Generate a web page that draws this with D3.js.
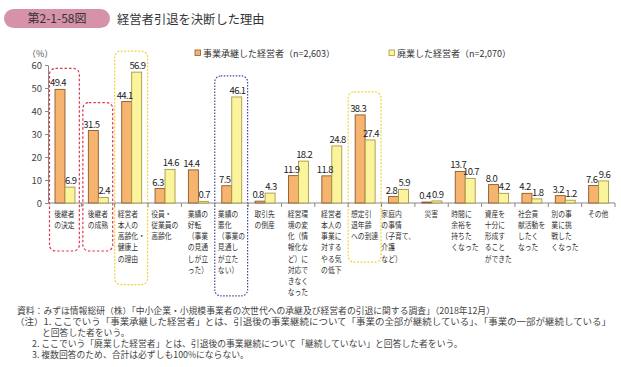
<!DOCTYPE html>
<html>
<head>
<meta charset="utf-8">
<script src="https://cdn.jsdelivr.net/npm/d3@7"></script>
<style>
  body { margin: 0; background: #fff; }
  svg { display: block; font-family: "Noto Sans CJK JP", "Noto Sans", sans-serif; }
</style>
</head>
<body>
<div id="chart"></div>
<script>
// category labels, one entry per line as printed under the axis
var categoryLines = [
  ["後継者", "の決定"],
  ["後継者", "の成熟"],
  ["経営者", "本人の", "高齢化・", "健康上", "の理由"],
  ["役員・", "従業員の", "高齢化"],
  ["業績の", "好転", "（事業", "の見通", "しが立", "った）"],
  ["業績の", "悪化", "（事業の", "見通し", "が立た", "ない）"],
  ["取引先", "の倒産"],
  ["経営環", "境の変", "化（情", "報化な", "ど）に", "対応で", "きなく", "なった"],
  ["経営者", "本人の", "事業に", "対する", "やる気", "の低下"],
  ["想定引", "退年齢", "への到達"],
  ["家庭内", "の事情", "（子育て、", "介護", "など）"],
  ["災害"],
  ["時間に", "余裕を", "持ちた", "くなった"],
  ["資産を", "十分に", "形成す", "ること", "ができた"],
  ["社会貢", "献活動を", "したく", "なった"],
  ["別の事", "業に挑", "戦した", "くなった"],
  ["その他"]
];
var categories = categoryLines.map(function(l) { return l.join(""); });

var seriesNames = ["事業承継した経営者（n=2,603）", "廃業した経営者（n=2,070）"];
var succeeded = [49.4, 31.5, 44.1, 6.3, 14.4, 7.5, 0.8, 11.9, 11.8, 38.3, 2.8, 0.4, 13.7, 8.0, 4.2, 3.2, 7.6];
var closedDown = [6.9, 2.4, 56.9, 14.6, 0.7, 46.1, 4.3, 18.2, 24.8, 27.4, 5.9, 0.9, 10.7, 4.2, 1.8, 1.2, 9.6];
var yTicks = [0, 10, 20, 30, 40, 50, 60];

// dashed highlight boxes: which category, which colour
var highlights = [
  { cat: 0, color: "#e0344e", dash: "2.5,2", pad: 21 },
  { cat: 1, color: "#e0344e", dash: "2.5,2", pad: 28 },
  { cat: 2, color: "#f3d33c", dash: "2,1.5", pad: 21 },
  { cat: 5, color: "#45439c", dash: "1.5,1.5", pad: 21 },
  { cat: 9, color: "#f3d33c", dash: "2,1.5", pad: 23 }
];

var footnotes = [
  "資料：みずほ情報総研（株）「中小企業・小規模事業者の次世代への承継及び経営者の引退に関する調査」（2018年12月）",
  "（注）1. ここでいう「事業承継した経営者」とは、引退後の事業継続について「事業の全部が継続している」、「事業の一部が継続している」",
  "と回答した者をいう。",
  "2. ここでいう「廃業した経営者」とは、引退後の事業継続について「継続していない」と回答した者をいう。",
  "3. 複数回答のため、合計は必ずしも100%にならない。"
];

var W = 621, H = 367;
var colors = { fill: ["#f6b46f", "#fbf49c"], stroke: ["#8a5a2c", "#a69a45"] };

var svg = d3.select("#chart").append("svg")
  .attr("width", W).attr("height", H);

// title
svg.append("rect")
  .attr("x", 4).attr("y", 9).attr("width", 106).attr("height", 19)
  .attr("rx", 9.5).attr("fill", "#d692a9");
svg.append("text")
  .attr("x", 57).attr("y", 23).attr("text-anchor", "middle")
  .attr("font-size", 12).attr("fill", "#333")
  .text("第2-1-58図");
svg.append("text")
  .attr("x", 117).attr("y", 23.5)
  .attr("font-size", 12.3).attr("fill", "#333")
  .text("経営者引退を決断した理由");

// scales
var x = d3.scaleBand().domain(categories).range([48, 615]).padding(0);
var xs = d3.scaleBand().domain([0, 1]).range([7, x.bandwidth() - 6.4]).padding(0);
var y = d3.scaleLinear().domain([0, 60]).range([203, 65]);

// highlight boxes (drawn first so bars sit on top)
var firstLine = 216.8, lineH = 11.2;
highlights.forEach(function(h) {
  var c = categories[h.cat];
  var top = y(Math.max(succeeded[h.cat], closedDown[h.cat])) - h.pad;
  var n = categoryLines[h.cat].length;
  var bottom = Math.max(242, firstLine + (n - 1) * lineH + 23);
  var inset = h.color === "#e0344e" ? 1.5 : 0;
  svg.append("rect")
    .attr("x", x(c) + inset).attr("y", top)
    .attr("width", x.bandwidth() - inset * 2 - 0.5).attr("height", bottom - top)
    .attr("rx", 6)
    .attr("fill", "none").attr("stroke", h.color)
    .attr("stroke-width", 1.2).attr("stroke-dasharray", h.dash);
});

// y axis
var yAxis = svg.append("g")
  .attr("transform", "translate(48,0)")
  .call(d3.axisLeft(y).tickValues(yTicks).tickSize(3).tickSizeOuter(0).tickPadding(3));
yAxis.select(".domain").attr("stroke", "#888");
yAxis.selectAll(".tick line").attr("stroke", "#888");
yAxis.selectAll(".tick text")
  .attr("font-size", 9.5).attr("fill", "#444")
  .attr("font-family", "'Noto Sans CJK JP', sans-serif");

svg.append("text")
  .attr("x", 27).attr("y", 56.5)
  .attr("font-size", 9).attr("fill", "#555")
  .text("（%）");

// x baseline and category separators
svg.append("line")
  .attr("x1", 48).attr("x2", 615).attr("y1", y(0)).attr("y2", y(0))
  .attr("stroke", "#888");
svg.append("g").selectAll("line")
  .data(categories.map(function(c) { return x(c) + x.bandwidth(); }))
  .enter().append("line")
  .attr("x1", function(d) { return d; }).attr("x2", function(d) { return d; })
  .attr("y1", y(0)).attr("y2", y(0) + 4)
  .attr("stroke", "#888");

// bars
var series = [succeeded, closedDown];
var groups = svg.append("g").selectAll("g")
  .data(categories)
  .enter().append("g")
  .attr("transform", function(c) { return "translate(" + x(c) + ",0)"; });

groups.selectAll("rect")
  .data(function(c, i) { return series.map(function(s, k) { return { k: k, v: s[i] }; }); })
  .enter().append("rect")
  .attr("x", function(d) { return xs(d.k); })
  .attr("y", function(d) { return y(d.v); })
  .attr("width", xs.bandwidth())
  .attr("height", function(d) { return y(0) - y(d.v); })
  .attr("fill", function(d) { return colors.fill[d.k]; })
  .attr("stroke", function(d) { return colors.stroke[d.k]; })
  .attr("stroke-width", 0.9);

groups.selectAll("text.val")
  .data(function(c, i) { return series.map(function(s, k) { return { k: k, v: s[i] }; }); })
  .enter().append("text")
  .attr("class", "val")
  .attr("x", function(d) { return xs(d.k) + xs.bandwidth() / 2 + (d.k === 0 ? -2 : 0.8); })
  .attr("y", function(d) { return y(d.v) - 3; })
  .attr("text-anchor", "middle")
  .attr("font-size", 9.5).attr("letter-spacing", "-0.6px").attr("fill", "#222")
  .text(function(d) { return d3.format(".1f")(d.v); });

// category labels, narrow multi-line blocks centred in each band
var squeeze = 0.8;
categoryLines.forEach(function(lines, i) {
  var g = svg.append("g");
  var t = g.append("text").attr("font-size", 8.5).attr("fill", "#333");
  lines.forEach(function(l, j) {
    t.append("tspan").attr("x", 0).attr("y", j * lineH).text(l);
  });
  var w = t.node().getBBox().width * squeeze;
  var cx = x(categories[i]) + x.bandwidth() / 2;
  g.attr("transform", "translate(" + (cx - w / 2) + "," + firstLine + ") scale(" + squeeze + ",1)");
});

// legend
var legendX = [195, 389];
seriesNames.forEach(function(name, k) {
  svg.append("rect")
    .attr("x", legendX[k]).attr("y", 50).attr("width", 5.5).attr("height", 5.5)
    .attr("fill", colors.fill[k]).attr("stroke", colors.stroke[k]).attr("stroke-width", 0.8);
  svg.append("text")
    .attr("x", legendX[k] + 8).attr("y", 56.5)
    .attr("font-size", 9).attr("fill", "#333")
    .text(name);
});

// footnotes
var noteX = [17, 15, 42, 32, 32];
var noteY = [314, 325.3, 336.3, 347.3, 358.3];
footnotes.forEach(function(s, i) {
  var t = svg.append("text")
    .attr("x", noteX[i]).attr("y", noteY[i])
    .attr("font-size", 8.8).attr("fill", "#444")
    .text(s);
  if (i === 1) t.attr("textLength", 596).attr("lengthAdjust", "spacingAndGlyphs");
});
</script>
</body>
</html>
